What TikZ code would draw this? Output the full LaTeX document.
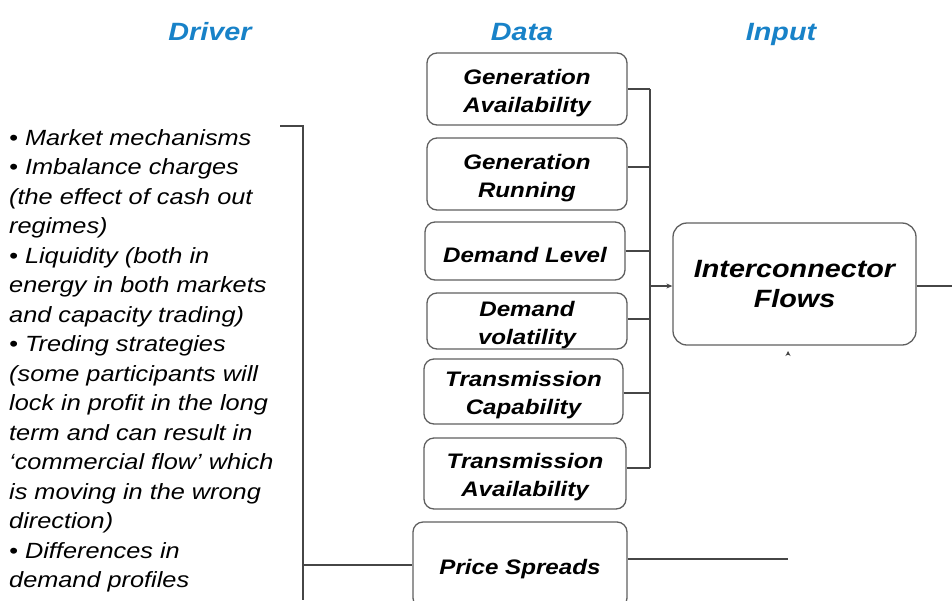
\documentclass[tikz,border=0pt]{standalone}
\usepackage{fontspec}
\setmainfont{Liberation Sans}[FakeStretch=1.15]
\usetikzlibrary{arrows.meta}
\definecolor{headblue}{RGB}{24,130,200}
\definecolor{boxgray}{RGB}{95,95,95}
\definecolor{linegray}{RGB}{70,70,70}
\newcommand{\boxstrut}{\rule{0pt}{22.5pt}}
\tikzset{
  databox/.style={draw=boxgray, line width=1.3pt, rounded corners=10pt, align=center, inner sep=0pt,
    font=\fontsize{21}{28}\selectfont\bfseries\itshape},
  heading/.style={text=headblue, font=\fontsize{25}{30}\selectfont\bfseries\itshape, inner sep=0pt, anchor=base},
  conn/.style={draw=linegray, line width=1.8pt},
  thinconn/.style={draw=linegray, line width=1.3pt},
}
\begin{document}
\begin{tikzpicture}[x=1pt,y=-1pt]
\useasboundingbox (0,0) rectangle (952,600);
% headings
\node[heading] (hdriver) at (210,40) {Driver};
\node[heading] (hdata) at (522,40) {Data};
\node[heading] (hinput) at (781,40) {Input};
% data boxes
\node[databox, minimum width=200pt, minimum height=72pt] (ga) at (527,89) {\boxstrut Generation\\Availability};
\node[databox, minimum width=200pt, minimum height=72pt] (gr) at (527,174) {\boxstrut Generation\\Running};
\node[databox, minimum width=200pt, minimum height=58pt] (dl) at (525,251) {\boxstrut Demand Level};
\node[databox, minimum width=200pt, minimum height=56pt] (dv) at (527,321) {\boxstrut Demand\\volatility};
\node[databox, minimum width=199pt, minimum height=65pt] (tc) at (523.5,391.5) {\boxstrut Transmission\\Capability};
\node[databox, minimum width=202pt, minimum height=71pt] (ta) at (525,473.5) {\boxstrut Transmission\\Availability};
\node[databox, minimum width=214pt, minimum height=86pt] (ps) at (520,565) {\boxstrut Price Spreads};
\node[databox, minimum width=243pt, minimum height=122pt, rounded corners=14pt,
  font=\fontsize{25}{30}\selectfont\bfseries\itshape] (ic) at (794.5,284) {Interconnector\\Flows};
% bus
\coordinate (bustop) at (650,89);
\coordinate (busbot) at (650,468);
\draw[conn] (bustop) -- (busbot);
\draw[conn] (ga.east |- 0,89) -- (bustop);
\draw[conn] (gr.east |- 0,167) -- (650,167);
\draw[conn] (dl.east) -- (650,251);
\draw[conn] (dv.east |- 0,319) -- (650,319);
\draw[conn] (tc.east |- 0,393) -- (650,393);
\draw[conn] (ta.east |- 0,468) -- (busbot);
\draw[thinconn, -{Stealth[length=6pt,width=5pt]}] (650,286) -- (ic.west |- 0,286);
% output line
\coordinate (outend) at (952,286);
\draw[thinconn] (ic.east |- 0,286) -- (outend);
% small arrowhead below interconnector
\coordinate (tipbase) at (788,355);
\draw[thinconn, -{Stealth[length=5pt,width=5pt]}] (tipbase) -- (788,351);
% price spread line
\coordinate (psend) at (788,559);
\draw[thinconn] (ps.east |- 0,559) -- (psend);
% driver bracket
\coordinate (brtop) at (280,126);
\coordinate (brcorner) at (303,126);
\coordinate (brbot) at (303,600);
\draw[conn] (brtop) -- (brcorner) -- (brbot);
\draw[conn] (303,565) -- (ps.west |- 0,565);
% driver text
\node[anchor=north west, align=left, inner sep=0pt, font=\fontsize{22}{29.5}\selectfont\itshape] (drv) at (9,129) {%
• Market mechanisms\\
• Imbalance charges\\
(the effect of cash out\\
regimes)\\
• Liquidity (both in\\
energy in both markets\\
and capacity trading)\\
• Treding strategies\\
(some participants will\\
lock in profit in the long\\
term and can result in\\
`commercial flow' which\\
is moving in the wrong\\
direction)\\
• Differences in\\
demand profiles};
\end{tikzpicture}
\end{document}
